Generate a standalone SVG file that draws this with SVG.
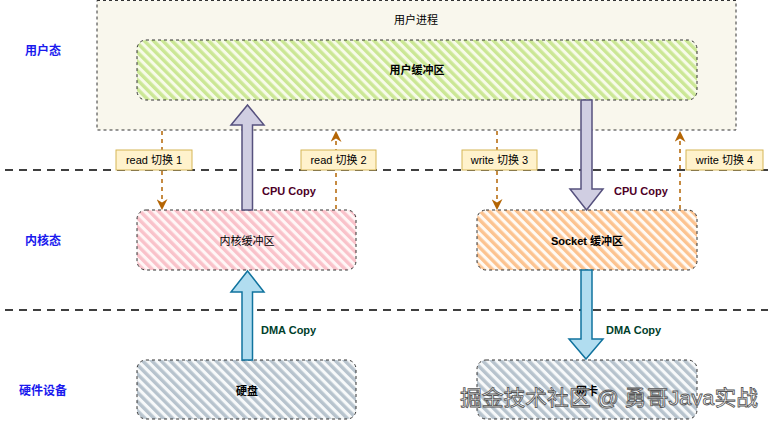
<svg xmlns="http://www.w3.org/2000/svg" width="773" height="421" viewBox="0 0 773 421">
<style>
text{font-family:"Liberation Sans",Arial,"Noto Sans CJK SC",sans-serif;font-size:11px;fill:#000}
.lane{fill:#1a1aee;font-size:12px;font-weight:bold}
.node{stroke:#333;stroke-width:1;stroke-dasharray:3,3}
.bold{font-weight:bold}
.sw{stroke:#b46504;stroke-width:1.5;stroke-dasharray:4,4;fill:none}
.tag{fill:#fff2cc;stroke:#d6b656;stroke-width:1}
.cpu{fill:#d0cee2;stroke:#56517e;stroke-width:1.5}
.dma{fill:#b1ddf0;stroke:#10739e;stroke-width:1.5}
.cpuT{fill:#4d0026;font-weight:bold}
.dmaT{fill:#00402b;font-weight:bold}
.sep{stroke:#000;stroke-width:1.5;stroke-dasharray:8,6}
</style>
<defs>
<pattern id="hg" width="6.5" height="6.5" patternUnits="userSpaceOnUse" patternTransform="rotate(-45)"><rect width="6.5" height="6.5" fill="#f7fbe8"/><rect width="3.4" height="6.5" fill="#cbe795"/></pattern>
<pattern id="hp" width="6.5" height="6.5" patternUnits="userSpaceOnUse" patternTransform="rotate(-45)"><rect width="6.5" height="6.5" fill="#fff6f6"/><rect width="3.4" height="6.5" fill="#f9c2ca"/></pattern>
<pattern id="ho" width="6.5" height="6.5" patternUnits="userSpaceOnUse" patternTransform="rotate(-45)"><rect width="6.5" height="6.5" fill="#fffaf4"/><rect width="3.4" height="6.5" fill="#fcc390"/></pattern>
<pattern id="hs" width="6.5" height="6.5" patternUnits="userSpaceOnUse" patternTransform="rotate(-45)"><rect width="6.5" height="6.5" fill="#f7f9fa"/><rect width="3.4" height="6.5" fill="#b7c3cd"/></pattern>
<marker id="ah2" viewBox="0 0 10 10" refX="9" refY="5" markerWidth="11" markerHeight="11" orient="auto" markerUnits="userSpaceOnUse"><path d="M0,0 L10,5 L0,10 L3,5 Z" fill="#b46504"/></marker>
</defs>

<g id="lanes">
<text class="lane" x="25" y="55">用户态</text>
<text class="lane" x="25" y="245">内核态</text>
<text class="lane" x="19" y="395">硬件设备</text>
<line class="sep" x1="5" y1="170" x2="768" y2="170"/>
<line class="sep" x1="5" y1="310" x2="768" y2="310"/>
</g>

<g id="user-process">
<rect x="97" y="0.5" width="639" height="129.5" fill="#f9f7ed" stroke="#333" stroke-width="1" stroke-dasharray="3,3"/>
<text x="416" y="24" text-anchor="middle">用户进程</text>
</g>

<g id="user-buffer">
<rect class="node" x="137" y="40" width="560" height="60" rx="9" fill="url(#hg)"/>
<text class="bold" x="417" y="74" text-anchor="middle">用户缓冲区</text>
</g>

<g id="kernel-buffer">
<rect class="node" x="137" y="210" width="219" height="60" rx="9" fill="url(#hp)"/>
<text x="247" y="245" text-anchor="middle">内核缓冲区</text>
</g>

<g id="socket-buffer">
<rect class="node" x="477" y="210" width="220" height="60" rx="9" fill="url(#ho)"/>
<text class="bold" x="587" y="245" text-anchor="middle">Socket 缓冲区</text>
</g>

<g id="disk">
<rect class="node" x="137" y="360" width="219" height="59" rx="9" fill="url(#hs)"/>
<text class="bold" x="247" y="395" text-anchor="middle">硬盘</text>
</g>

<g id="nic">
<rect class="node" x="477" y="360" width="220" height="59" rx="9" fill="url(#hs)"/>
<text class="bold" x="587" y="395" text-anchor="middle">网卡</text>
</g>

<g id="connectors">
<line class="sw" x1="162" y1="131" x2="162" y2="209" marker-end="url(#ah2)"/>
<line class="sw" x1="336" y1="209" x2="336" y2="132" marker-end="url(#ah2)"/>
<line class="sw" x1="497" y1="131" x2="497" y2="209" marker-end="url(#ah2)"/>
<line class="sw" x1="680" y1="209" x2="680" y2="132" marker-end="url(#ah2)"/>

<polygon class="cpu" points="247.5,105 264,125 252.5,125 252.5,210 242,210 242,125 231,125"/>
<polygon class="cpu" points="586.5,210 603,189 592,189 592,100 581,100 581,189 570,189"/>
<polygon class="dma" points="247.5,271 264,292 252.5,292 252.5,360 242,360 242,292 231,292"/>
<polygon class="dma" points="586,359 603,339 592,339 592,270 581,270 581,339 569,339"/>

<rect class="tag" x="116" y="150" width="76" height="20"/>
<text x="154" y="164" text-anchor="middle">read 切换 1</text>
<rect class="tag" x="301" y="150" width="75" height="20"/>
<text x="338.5" y="164" text-anchor="middle">read 切换 2</text>
<rect class="tag" x="462" y="150" width="75" height="20"/>
<text x="499.5" y="164" text-anchor="middle">write 切换 3</text>
<rect class="tag" x="686" y="150" width="77" height="20"/>
<text x="724.5" y="164" text-anchor="middle">write 切换 4</text>

<text class="cpuT" x="262" y="195">CPU Copy</text>
<text class="cpuT" x="614" y="195">CPU Copy</text>
<text class="dmaT" x="261" y="334">DMA Copy</text>
<text class="dmaT" x="606" y="334">DMA Copy</text>
</g>

<g id="watermark">
<text x="460" y="405" textLength="298" lengthAdjust="spacingAndGlyphs" style="font-size:21px;fill:#ffffff;fill-opacity:0.75;stroke:#555;stroke-width:0.8">掘金技术社区 @ 勇哥Java实战</text>
</g>
</svg>
